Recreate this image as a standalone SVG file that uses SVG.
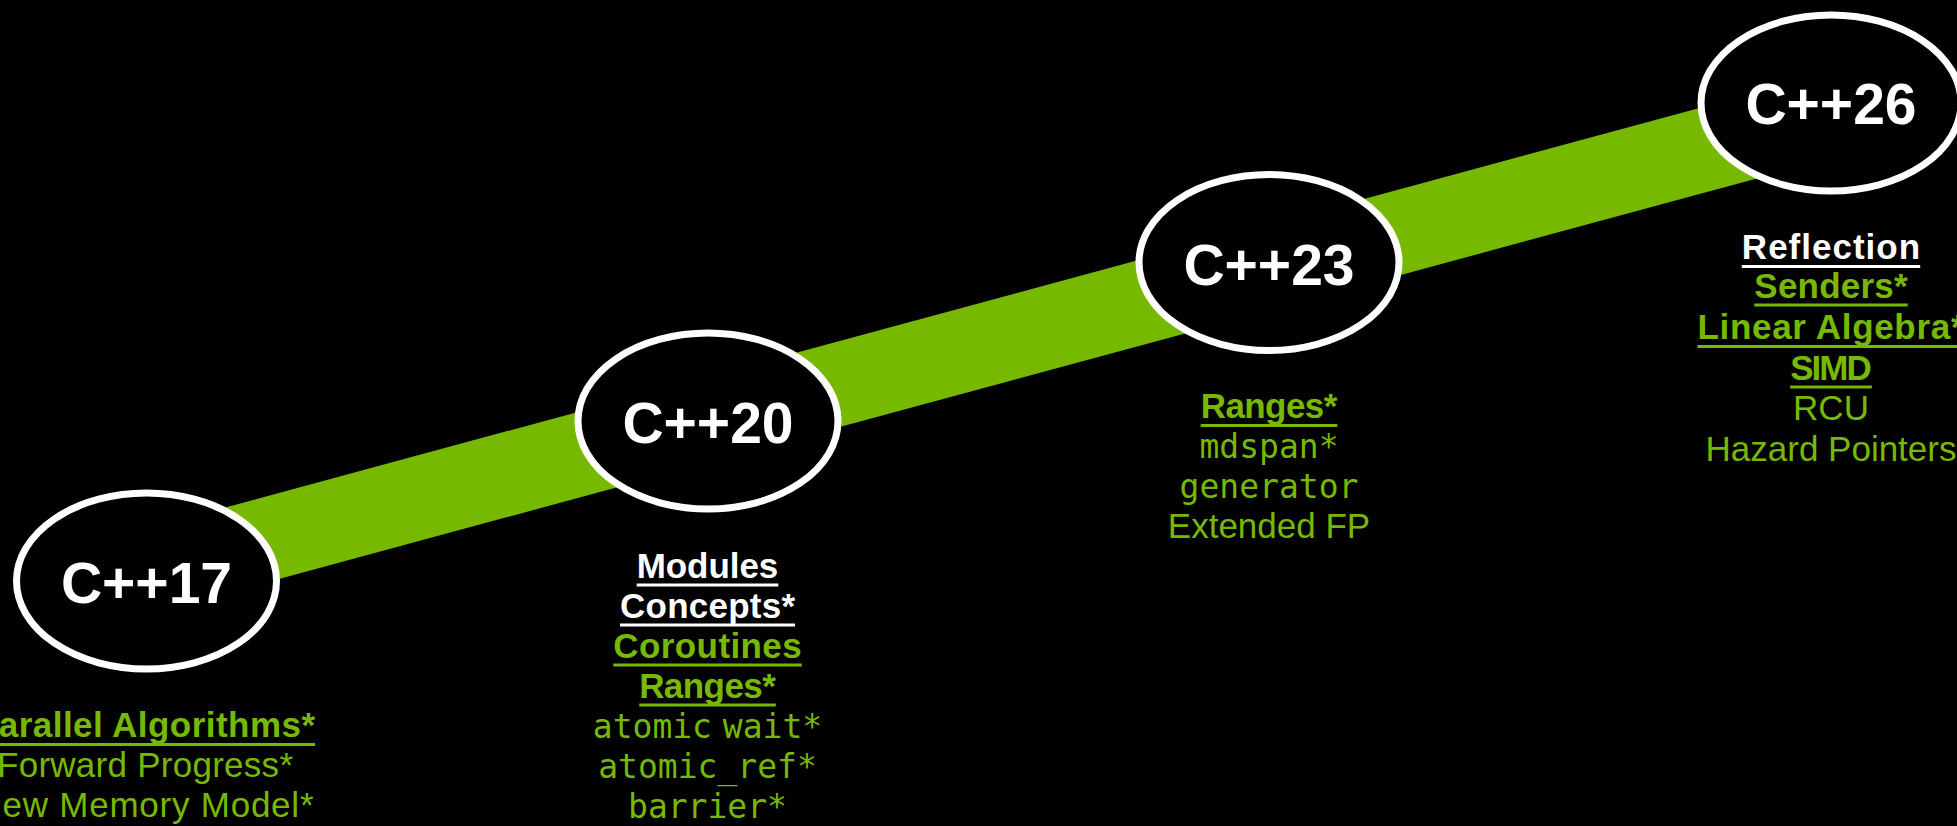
<svg xmlns="http://www.w3.org/2000/svg" width="1957" height="826" viewBox="0 0 1957 826">
  <style>
    .bg { fill: #000; }
    .band { fill: #76b900; }
    .oval { fill: #000; stroke: #fff; stroke-width: 7; }
    .title { font-family: "Liberation Sans", Arial, sans-serif; font-weight: bold; font-size: 57px; fill: #fff; text-anchor: middle; }
    .item { font-family: "Liberation Sans", Arial, sans-serif; font-size: 35px; text-anchor: middle; }
    .mono { font-family: "DejaVu Sans Mono", "Liberation Mono", monospace; font-size: 33px; text-anchor: middle; }
    .b { font-weight: bold; }
    .w { fill: #fff; }
    .g { fill: #76b900; }
    .ulw { stroke: #fff; stroke-width: 3; }
    .ulg { stroke: #76b900; stroke-width: 3; }
  </style>

  <rect class="bg" x="0" y="0" width="1957" height="826"/>

  <!-- timeline band running behind the release ovals -->
  <g id="connectors">
    <path class="band" d="M146,529 L1831,72.4 L1831,158.4 L146,615 Z"/>
  </g>

  <g id="cpp17">
    <ellipse class="oval" cx="146.5" cy="581" rx="130" ry="88"/>
    <text class="title" x="146.5" y="603">C++17</text>
    <text class="item b g" x="145" y="737" textLength="340">Parallel Algorithms*</text>
    <line class="ulg" x1="-25" y1="744.5" x2="315" y2="744.5"/>
    <text class="item g" x="145" y="777" textLength="296">Forward Progress*</text>
    <text class="item g" x="145" y="817" textLength="337">New Memory Model*</text>
  </g>

  <g id="cpp20">
    <ellipse class="oval" cx="708" cy="421" rx="130" ry="88"/>
    <text class="title" x="708" y="443">C++20</text>
    <text class="item b w" x="707.5" y="578" textLength="141.6">Modules</text>
    <line class="ulw" x1="636.7" y1="585" x2="778.3" y2="585"/>
    <text class="item b w" x="707.5" y="618" textLength="175">Concepts*</text>
    <line class="ulw" x1="620" y1="625" x2="795" y2="625"/>
    <text class="item b g" x="707.5" y="658" textLength="188.4">Coroutines</text>
    <line class="ulg" x1="613.3" y1="665" x2="801.7" y2="665"/>
    <text class="item b g" x="707.5" y="698" textLength="136.7">Ranges*</text>
    <line class="ulg" x1="639.2" y1="705" x2="775.8" y2="705"/>
    <text class="mono g" x="707.5" y="738" word-spacing="-9">atomic wait*</text>
    <text class="mono g" x="707.5" y="778">atomic_ref*</text>
    <text class="mono g" x="707.5" y="818">barrier*</text>
  </g>

  <g id="cpp23">
    <ellipse class="oval" cx="1269" cy="262.5" rx="130" ry="88"/>
    <text class="title" x="1269" y="285">C++23</text>
    <text class="item b g" x="1269" y="418" textLength="136.6">Ranges*</text>
    <line class="ulg" x1="1200.7" y1="425.5" x2="1337.3" y2="425.5"/>
    <text class="mono g" x="1269" y="458">mdspan*</text>
    <text class="mono g" x="1269" y="498">generator</text>
    <text class="item g" x="1269" y="538">Extended FP</text>
  </g>

  <g id="cpp26">
    <ellipse class="oval" cx="1831" cy="103" rx="130" ry="88"/>
    <text class="title" x="1831" y="124">C++26</text>
    <text class="item b w" x="1831" y="259" textLength="178.3">Reflection</text>
    <line class="ulw" x1="1741.8" y1="266.5" x2="1920.2" y2="266.5"/>
    <text class="item b g" x="1831" y="298" textLength="153.3">Senders*</text>
    <line class="ulg" x1="1754.3" y1="305" x2="1907.7" y2="305"/>
    <text class="item b g" x="1831" y="338.5" textLength="267">Linear Algebra*</text>
    <line class="ulg" x1="1697.5" y1="346.5" x2="1964.5" y2="346.5"/>
    <text class="item b g" x="1831" y="380" textLength="81.7">SIMD</text>
    <line class="ulg" x1="1790.2" y1="387" x2="1871.8" y2="387"/>
    <text class="item g" x="1831" y="420">RCU</text>
    <text class="item g" x="1831" y="461">Hazard Pointers</text>
  </g>
</svg>
